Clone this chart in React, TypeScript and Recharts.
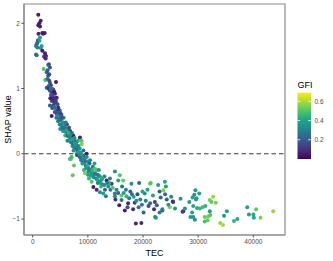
import { ScatterChart, Scatter, XAxis, YAxis, ReferenceLine, ReferenceArea } from "recharts"

// TEC (x), SHAP value (y) and GFI (colour) per point
const tec = [
  1010, 1450, 1200, 1010, 1320, 1740, 2170, 1050, 1900, 1320,
  960, 1200, 720, 840, 600, 1630, 840, 1450, 600, 720,
  1740, 2230, 2400, 2230, 2050, 2350, 2950, 2830, 3130, 1990,
  2540, 2830, 3000, 2280, 4220, 3130, 2700, 2540, 3300, 2900,
  3440, 4040, 3100, 3700, 4350, 3440, 3800, 3730, 4640, 3130,
  3440, 4350, 4950, 5250, 5540, 3900, 4100, 3600, 4200, 3300,
  4500, 4000, 4700, 3550, 4800, 2900, 3200, 4400, 3900, 5000,
  4300, 4600, 4900, 5100, 5300, 5500, 5700, 5800, 6000, 6100,
  6300, 6400, 6600, 6700, 6900, 7000, 7350, 7200, 7500, 7700,
  7970, 8570, 8870, 8900, 7970, 6760, 8100, 8300, 5200, 4500,
  5600, 6200, 6500, 5900, 7100, 7600, 8200, 6800, 5400, 4800,
  5000, 6300, 7400, 8000, 8500, 8500, 8800, 9170, 9780, 9000,
  9400, 9600, 9900, 10100, 10300, 10500, 10700, 10900, 11100, 11290,
  11600, 11500, 11800, 12000, 12200, 12500, 12700, 10700, 11000, 11600,
  12200, 12800, 7250, 7480, 6940, 7060, 8200, 9300, 10000, 9500,
  10200, 8700, 9200, 9800, 10400, 11200, 12000, 13000, 12400, 11800,
  13280, 13400, 14300, 14900, 14900, 14900, 15500, 15800, 15700, 16100,
  16100, 16400, 16700, 16900, 17300, 17900, 18000, 18500, 18700, 19300,
  19700, 19500, 13700, 14100, 13900, 14500, 15200, 15500, 15000, 16500,
  17000, 17500, 17700, 18300, 18800, 19000, 19800, 19900, 13100, 14000,
  16200, 17200, 18200, 19200, 20300, 20500, 21000, 21250, 21400, 21800,
  21300, 22150, 22200, 22340, 22500, 22750, 23000, 23200, 23500, 23500,
  23700, 23970, 24150, 24000, 24300, 24870, 25100, 25400, 25470, 25800,
  20800, 22000, 24600, 20100, 23000, 26800, 27300, 27170, 27600, 28400,
  28600, 29100, 29400, 29500, 30200, 29000, 29300, 29600, 29100, 29800,
  30300, 30800, 31300, 32100, 31200, 31800, 32200, 31200, 31700, 32100,
  32400, 32700, 33200, 34000, 34500, 34700, 35200, 36500, 37100, 38900,
  39200, 40000, 40500, 40100, 41300, 43600, 28900, 29700, 2700, 3000,
  3300, 3500, 3700, 3900, 4100, 4300, 4500, 4700, 4900, 5100,
  5300, 5500, 5700, 5900, 6100, 6300, 6500, 6700, 6900, 7100,
  7300, 7500, 7700, 7900, 8100, 8300, 8500, 8700, 8900, 9100,
  9300, 9500, 9700, 9900, 10100, 10300, 10500, 10800, 11000, 11300,
  11700, 12000, 12300, 12600, 13000, 13500, 6000, 5000, 4200, 6600,
]

const shap = [
  2.13, 2.04, 2.0, 1.97, 1.95, 1.85, 1.85, 1.84, 1.84, 1.78,
  1.74, 1.73, 1.68, 1.7, 1.65, 1.65, 1.63, 1.62, 1.52, 1.51,
  1.58, 1.54, 1.5, 1.47, 1.49, 1.46, 1.37, 1.36, 1.32, 1.3,
  1.25, 1.2, 1.22, 1.13, 1.1, 1.09, 1.15, 1.01, 1.05, 1.04,
  0.94, 0.92, 0.97, 0.99, 0.86, 0.81, 0.85, 0.74, 0.71, 0.74,
  0.58, 0.61, 0.66, 0.56, 0.48, 0.78, 0.7, 0.88, 0.8, 0.9,
  0.76, 0.64, 0.62, 0.7, 0.55, 1.0, 0.85, 0.68, 0.95, 0.6,
  0.55, 0.5, 0.45, 0.52, 0.42, 0.4, 0.47, 0.35, 0.38, 0.3,
  0.33, 0.27, 0.3, 0.22, 0.25, 0.18, 0.28, 0.12, 0.2, 0.1,
  0.18, 0.25, 0.2, 0.15, 0.01, -0.08, 0.05, 0.12, 0.6, 0.62,
  0.55, 0.45, 0.38, 0.28, 0.32, 0.24, 0.2, 0.35, 0.48, 0.58,
  0.38, 0.2, 0.05, -0.02, 0.08, -0.05, -0.1, -0.03, 0.0, -0.15,
  -0.08, -0.18, -0.12, -0.22, -0.15, -0.24, -0.3, -0.2, -0.33, -0.23,
  -0.25, -0.38, -0.32, -0.42, -0.35, -0.4, -0.47, -0.43, -0.51, -0.55,
  -0.59, -0.61, -0.33, -0.18, -0.08, -0.05, -0.02, -0.25, -0.32, -0.3,
  -0.38, 0.02, 0.05, -0.05, -0.1, -0.15, -0.25, -0.35, -0.5, -0.45,
  -0.65, -0.41, -0.46, -0.27, -0.65, -0.61, -0.41, -0.33, -0.79, -0.71,
  -0.64, -0.41, -0.87, -0.55, -0.76, -0.46, -0.62, -0.75, -1.07, -0.45,
  -1.06, -0.7, -0.5, -0.55, -0.45, -0.52, -0.55, -0.6, -0.7, -0.6,
  -0.65, -0.68, -0.58, -0.66, -0.72, -0.62, -0.78, -0.58, -0.55, -0.38,
  -0.5, -0.82, -0.85, -0.82, -0.61, -0.72, -0.8, -0.46, -0.45, -0.64,
  -0.76, -0.74, -0.97, -0.98, -0.79, -0.48, -0.58, -0.67, -0.87, -0.85,
  -0.56, -0.43, -0.5, -0.62, -0.7, -0.82, -0.66, -0.73, -0.74, -0.84,
  -0.55, -0.85, -0.78, -0.9, -0.9, -0.69, -0.88, -0.89, -0.84, -0.74,
  -0.97, -0.97, -1.01, -0.56, -0.61, -0.67, -0.63, -0.7, -0.8, -0.83,
  -0.84, -0.82, -0.8, -0.88, -0.97, -0.96, -0.94, -1.04, -1.02, -0.71,
  -0.74, -0.66, -0.75, -1.06, -1.09, -0.95, -0.88, -1.03, -1.0, -0.82,
  -0.93, -0.93, -0.85, -0.98, -0.98, -0.88, -0.9, -0.68, 1.28, 1.12,
  1.0, 0.9, 0.82, 0.72, 0.78, 0.65, 0.58, 0.68, 0.52, 0.45,
  0.55, 0.35, 0.4, 0.42, 0.36, 0.28, 0.32, 0.28, 0.18, 0.22,
  0.15, 0.1, 0.16, 0.08, 0.12, 0.02, -0.02, -0.06, -0.02, -0.1,
  -0.14, -0.12, -0.22, -0.18, -0.27, -0.25, -0.33, -0.26, -0.36, -0.3,
  -0.4, -0.34, -0.45, -0.38, -0.48, -0.45, 0.48, 0.62, 0.85, 0.4,
]

const gfi = [
  0.05, 0.06, 0.05, 0.07, 0.06, 0.05, 0.06, 0.08, 0.05, 0.4,
  0.25, 0.38, 0.28, 0.22, 0.27, 0.42, 0.3, 0.35, 0.27, 0.24,
  0.05, 0.06, 0.05, 0.42, 0.1, 0.08, 0.22, 0.18, 0.2, 0.5,
  0.22, 0.18, 0.15, 0.48, 0.05, 0.2, 0.25, 0.2, 0.12, 0.22,
  0.1, 0.08, 0.2, 0.15, 0.06, 0.18, 0.1, 0.12, 0.08, 0.2,
  0.06, 0.12, 0.35, 0.38, 0.3, 0.16, 0.22, 0.06, 0.14, 0.22,
  0.18, 0.2, 0.25, 0.15, 0.1, 0.1, 0.06, 0.28, 0.05, 0.22,
  0.25, 0.3, 0.35, 0.22, 0.4, 0.28, 0.33, 0.38, 0.25, 0.42,
  0.2, 0.36, 0.3, 0.45, 0.22, 0.4, 0.06, 0.35, 0.28, 0.44,
  0.08, 0.06, 0.5, 0.55, 0.5, 0.4, 0.3, 0.38, 0.15, 0.2,
  0.3, 0.12, 0.35, 0.45, 0.26, 0.33, 0.42, 0.18, 0.38, 0.28,
  0.32, 0.3, 0.36, 0.28, 0.34, 0.35, 0.28, 0.22, 0.06, 0.4,
  0.32, 0.25, 0.38, 0.3, 0.2, 0.42, 0.36, 0.28, 0.34, 0.52,
  0.5, 0.3, 0.24, 0.38, 0.44, 0.32, 0.28, 0.5, 0.06, 0.08,
  0.35, 0.38, 0.52, 0.52, 0.52, 0.46, 0.12, 0.45, 0.4, 0.55,
  0.46, 0.38, 0.26, 0.34, 0.3, 0.4, 0.36, 0.3, 0.45, 0.3,
  0.3, 0.06, 0.08, 0.35, 0.36, 0.3, 0.4, 0.5, 0.06, 0.28,
  0.52, 0.52, 0.06, 0.3, 0.08, 0.35, 0.25, 0.12, 0.08, 0.22,
  0.08, 0.3, 0.35, 0.28, 0.44, 0.5, 0.32, 0.24, 0.1, 0.38,
  0.45, 0.3, 0.22, 0.4, 0.36, 0.18, 0.28, 0.42, 0.2, 0.3,
  0.28, 0.15, 0.1, 0.25, 0.36, 0.3, 0.15, 0.55, 0.5, 0.4,
  0.25, 0.12, 0.28, 0.36, 0.2, 0.38, 0.2, 0.22, 0.15, 0.3,
  0.55, 0.4, 0.38, 0.25, 0.2, 0.55, 0.3, 0.06, 0.1, 0.36,
  0.4, 0.08, 0.35, 0.22, 0.3, 0.36, 0.06, 0.12, 0.38, 0.36,
  0.38, 0.36, 0.36, 0.38, 0.38, 0.4, 0.35, 0.38, 0.4, 0.42,
  0.46, 0.48, 0.44, 0.38, 0.52, 0.55, 0.5, 0.48, 0.52, 0.55,
  0.52, 0.58, 0.55, 0.58, 0.6, 0.36, 0.4, 0.45, 0.42, 0.38,
  0.4, 0.42, 0.52, 0.4, 0.55, 0.58, 0.4, 0.38, 0.2, 0.15,
  0.25, 0.18, 0.08, 0.25, 0.12, 0.18, 0.32, 0.1, 0.25, 0.3,
  0.18, 0.36, 0.22, 0.3, 0.4, 0.25, 0.45, 0.34, 0.3, 0.4,
  0.25, 0.32, 0.38, 0.26, 0.3, 0.4, 0.3, 0.24, 0.36, 0.3,
  0.38, 0.28, 0.34, 0.42, 0.36, 0.3, 0.38, 0.44, 0.34, 0.28,
  0.4, 0.32, 0.36, 0.42, 0.34, 0.28, 0.28, 0.15, 0.1, 0.16,
]

const xTicks = [0, 10000, 20000, 30000, 40000]
const yTicks = [-1, 0, 1, 2]
const gfiTicks = [0.2, 0.4, 0.6]
const GFI_MIN = 0
const GFI_MAX = 0.69

const VIRIDIS = [
  "#440154", "#482475", "#414487", "#355f8d", "#2a788e", "#21918c",
  "#22a884", "#44bf70", "#7ad151", "#bddf26", "#fde725",
]

function hexToRgb(h: string) {
  return [1, 3, 5].map((i) => parseInt(h.slice(i, i + 2), 16))
}

function viridis(v: number) {
  let t = (v - GFI_MIN) / (GFI_MAX - GFI_MIN)
  t = Math.max(0, Math.min(1, t)) * (VIRIDIS.length - 1)
  const i = Math.min(Math.floor(t), VIRIDIS.length - 2)
  const f = t - i
  const a = hexToRgb(VIRIDIS[i])
  const b = hexToRgb(VIRIDIS[i + 1])
  const c = a.map((x, k) => Math.round(x + (b[k] - x) * f))
  return `rgb(${c[0]},${c[1]},${c[2]})`
}

const points = tec.map((t, i) => ({ tec: t, shap: shap[i], gfi: gfi[i] }))

const fmtMinus = (v: number) => (v < 0 ? `\u2212${Math.abs(v)}` : `${v}`)

const FONT = "'Liberation Sans', Arial, sans-serif"
const BORDER = "#8a8a8a"

// colourbar geometry (pixels)
const BAR_X = 297.5
const BAR_TOP = 92.7
const BAR_BOTTOM = 159
const BAR_W = 13.5
const barY = (v: number) => BAR_BOTTOM - ((v - GFI_MIN) / (GFI_MAX - GFI_MIN)) * (BAR_BOTTOM - BAR_TOP)

function ColourLegend() {
  return (
    <svg width={333} height={261} style={{ position: "absolute", left: 0, top: 0, pointerEvents: "none" }}>
      <defs>
        <linearGradient id="vir" x1="0" y1="1" x2="0" y2="0">
          {VIRIDIS.map((c, i) => (
            <stop key={i} offset={i / (VIRIDIS.length - 1)} stopColor={c} />
          ))}
        </linearGradient>
      </defs>
      <text x={BAR_X} y={88.3} fontSize={9} fill="#000" fontFamily={FONT}>GFI</text>
      <rect x={BAR_X} y={BAR_TOP} width={BAR_W} height={BAR_BOTTOM - BAR_TOP} fill="url(#vir)" />
      {gfiTicks.map((v) => (
        <g key={v}>
          <line x1={BAR_X} x2={BAR_X + 2.7} y1={barY(v)} y2={barY(v)} stroke="#fff" strokeWidth={0.8} />
          <line x1={BAR_X + BAR_W - 2.7} x2={BAR_X + BAR_W} y1={barY(v)} y2={barY(v)} stroke="#fff" strokeWidth={0.8} />
          <text x={BAR_X + BAR_W + 3.5} y={barY(v)} dy="0.35em" fontSize={6.5} fill="#4d4d4d" fontFamily={FONT}>
            {v.toFixed(1)}
          </text>
        </g>
      ))}
    </svg>
  )
}

export default function App() {
  return (
    <div style={{ position: "absolute", left: 0, top: 0, width: 333, height: 261, background: "#fff", fontFamily: FONT }}>
      <ScatterChart width={333} height={261} margin={{ top: 4, right: 48, bottom: 0, left: 0 }}>
        <XAxis
          type="number"
          dataKey="tec"
          domain={[-1576, 45743]}
          ticks={xTicks}
          allowDataOverflow
          height={26}
          tickSize={2.5}
          tickMargin={1.5}
          tick={{ fontSize: 6.5, fill: "#4d4d4d", fontFamily: FONT }}
          tickLine={{ stroke: "#555" }}
          axisLine={{ stroke: BORDER, strokeWidth: 1.2 }}
          label={{ value: "TEC", position: "insideBottom", offset: 5, fontSize: 9, fill: "#000", fontFamily: FONT }}
        />
        <YAxis
          type="number"
          dataKey="shap"
          domain={[-1.245, 2.295]}
          ticks={yTicks}
          allowDataOverflow
          width={24}
          tickSize={2.7}
          tickMargin={1.5}
          tickFormatter={fmtMinus}
          tick={{ fontSize: 6.5, fill: "#4d4d4d", fontFamily: FONT }}
          tickLine={{ stroke: "#555" }}
          axisLine={{ stroke: BORDER, strokeWidth: 1.2 }}
          label={{
            value: "SHAP value",
            angle: -90,
            position: "insideLeft",
            offset: 8,
            fontSize: 9,
            fill: "#000",
            fontFamily: FONT,
            style: { textAnchor: "middle" },
          }}
        />
        <ReferenceArea
          x1={-1576}
          x2={45743}
          y1={-1.245}
          y2={2.295}
          fill="none"
          stroke={BORDER}
          strokeWidth={1.2}
          ifOverflow="visible"
        />
        <Scatter
          data={points}
          isAnimationActive={false}
          shape={(p: any) => <circle cx={p.cx} cy={p.cy} r={2} fill={viridis(p.payload.gfi)} />}
        />
        <ReferenceLine y={0} stroke="#3a3a3a" strokeWidth={1.1} strokeDasharray="4.5 3" />
      </ScatterChart>
      <ColourLegend />
    </div>
  )
}
